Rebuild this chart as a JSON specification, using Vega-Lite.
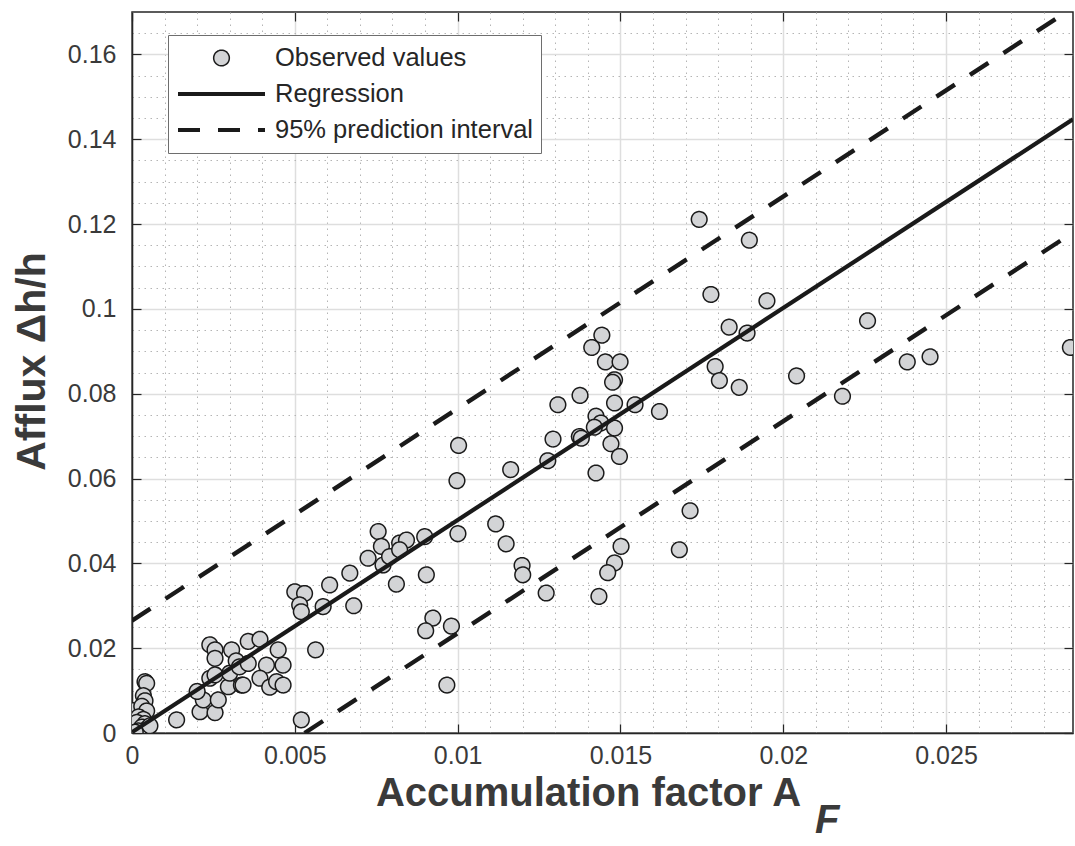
{
  "$schema": "https://vega.github.io/schema/vega-lite/v6.json",
  "width": 941,
  "height": 721,
  "autosize": "none",
  "padding": {"left": 132, "top": 12, "right": 2, "bottom": 113},
  "background": "white",
  "config": {
    "font": "Liberation Sans",
    "view": {"stroke": "#262626", "strokeWidth": 1.5},
    "legend": {
      "title": null, "orient": "none", "legendX": 36, "legendY": 23, "direction": "vertical",
      "fillColor": "white", "strokeColor": "#6e6e6e", "padding": 8,
      "clipHeight": 30, "rowPadding": 6, "labelOffset": 8,
      "labelFont": "Liberation Sans", "labelFontSize": 25.5, "labelColor": "#262626", "labelLimit": 400
    }
  },
  "title": {"text": "F", "orient": "bottom", "anchor": "start", "frame": "group", "font": "Liberation Sans", "fontSize": 40, "fontStyle": "italic", "fontWeight": "bold", "color": "#3a3a3a", "dx": 683, "offset": -12},
  "datasets": {
    "obs": [
      {"x": 0.00000, "y": 0.0053}, {"x": 0.00040, "y": 0.0121}, {"x": 0.00045, "y": 0.0117}, {"x": 0.00035, "y": 0.0088},
      {"x": 0.00040, "y": 0.0076}, {"x": 0.00030, "y": 0.0063}, {"x": 0.00045, "y": 0.0052}, {"x": 0.00020, "y": 0.0038},
      {"x": 0.00035, "y": 0.0032}, {"x": 0.00015, "y": 0.0025}, {"x": 0.00040, "y": 0.0022}, {"x": 0.00030, "y": 0.0014},
      {"x": 0.00045, "y": 0.0009}, {"x": 0.00020, "y": 0.0005}, {"x": 0.00055, "y": 0.0017}, {"x": 0.00010, "y": 0.0002},
      {"x": 0.00137, "y": 0.0031}, {"x": 0.00209, "y": 0.0050}, {"x": 0.00255, "y": 0.0048}, {"x": 0.00219, "y": 0.0078},
      {"x": 0.00265, "y": 0.0078}, {"x": 0.00200, "y": 0.0098}, {"x": 0.00239, "y": 0.0129}, {"x": 0.00255, "y": 0.0137},
      {"x": 0.00296, "y": 0.0109}, {"x": 0.00336, "y": 0.0113}, {"x": 0.00239, "y": 0.0208}, {"x": 0.00255, "y": 0.0196},
      {"x": 0.00255, "y": 0.0176}, {"x": 0.00306, "y": 0.0196}, {"x": 0.00320, "y": 0.0170}, {"x": 0.00300, "y": 0.0141},
      {"x": 0.00330, "y": 0.0156}, {"x": 0.00357, "y": 0.0216}, {"x": 0.00393, "y": 0.0221}, {"x": 0.00449, "y": 0.0196},
      {"x": 0.00357, "y": 0.0164}, {"x": 0.00413, "y": 0.0160}, {"x": 0.00464, "y": 0.0160}, {"x": 0.00393, "y": 0.0129},
      {"x": 0.00341, "y": 0.0113}, {"x": 0.00423, "y": 0.0108}, {"x": 0.00444, "y": 0.0121}, {"x": 0.00464, "y": 0.0113},
      {"x": 0.00500, "y": 0.0333}, {"x": 0.00530, "y": 0.0329}, {"x": 0.00515, "y": 0.0302}, {"x": 0.00520, "y": 0.0286},
      {"x": 0.00587, "y": 0.0298}, {"x": 0.00564, "y": 0.0196}, {"x": 0.00520, "y": 0.0031}, {"x": 0.00607, "y": 0.0349},
      {"x": 0.00669, "y": 0.0377}, {"x": 0.00681, "y": 0.0300}, {"x": 0.00725, "y": 0.0412}, {"x": 0.00756, "y": 0.0475},
      {"x": 0.00766, "y": 0.0440}, {"x": 0.00771, "y": 0.0396}, {"x": 0.00791, "y": 0.0416}, {"x": 0.00822, "y": 0.0448},
      {"x": 0.00843, "y": 0.0455}, {"x": 0.00822, "y": 0.0432}, {"x": 0.00812, "y": 0.0351}, {"x": 0.00899, "y": 0.0463},
      {"x": 0.00904, "y": 0.0373}, {"x": 0.00924, "y": 0.0271}, {"x": 0.00902, "y": 0.0241}, {"x": 0.00981, "y": 0.0252},
      {"x": 0.00967, "y": 0.0113}, {"x": 0.01003, "y": 0.0678}, {"x": 0.00998, "y": 0.0595}, {"x": 0.01001, "y": 0.0470},
      {"x": 0.01117, "y": 0.0493}, {"x": 0.01149, "y": 0.0446}, {"x": 0.01163, "y": 0.0621}, {"x": 0.01198, "y": 0.0395},
      {"x": 0.01200, "y": 0.0373}, {"x": 0.01272, "y": 0.0330}, {"x": 0.01277, "y": 0.0642}, {"x": 0.01293, "y": 0.0693},
      {"x": 0.01308, "y": 0.0774}, {"x": 0.01374, "y": 0.0699}, {"x": 0.01380, "y": 0.0695}, {"x": 0.01376, "y": 0.0796},
      {"x": 0.01412, "y": 0.0909}, {"x": 0.01443, "y": 0.0938}, {"x": 0.01454, "y": 0.0875}, {"x": 0.01499, "y": 0.0875},
      {"x": 0.01482, "y": 0.0833}, {"x": 0.01476, "y": 0.0827}, {"x": 0.01482, "y": 0.0778}, {"x": 0.01545, "y": 0.0774},
      {"x": 0.01620, "y": 0.0758}, {"x": 0.01425, "y": 0.0747}, {"x": 0.01440, "y": 0.0731}, {"x": 0.01420, "y": 0.0721},
      {"x": 0.01482, "y": 0.0719}, {"x": 0.01471, "y": 0.0682}, {"x": 0.01497, "y": 0.0652}, {"x": 0.01425, "y": 0.0613},
      {"x": 0.01502, "y": 0.0440}, {"x": 0.01482, "y": 0.0401}, {"x": 0.01461, "y": 0.0378}, {"x": 0.01434, "y": 0.0322},
      {"x": 0.01681, "y": 0.0432}, {"x": 0.01714, "y": 0.0524}, {"x": 0.01742, "y": 0.1211}, {"x": 0.01778, "y": 0.1034},
      {"x": 0.01834, "y": 0.0957}, {"x": 0.01791, "y": 0.0864}, {"x": 0.01804, "y": 0.0831}, {"x": 0.01865, "y": 0.0815},
      {"x": 0.01896, "y": 0.1162}, {"x": 0.01950, "y": 0.1019}, {"x": 0.01889, "y": 0.0943}, {"x": 0.02041, "y": 0.0842},
      {"x": 0.02182, "y": 0.0794}, {"x": 0.02259, "y": 0.0972}, {"x": 0.02381, "y": 0.0875}, {"x": 0.02451, "y": 0.0887},
      {"x": 0.02882, "y": 0.0909}
    ],
    "regression": [
      {"x": 0, "y": 0.0002}, {"x": 0.0289, "y": 0.1447}
    ],
    "interval": [
      {"bound": "upper", "x": 0, "y": 0.0265}, {"bound": "upper", "x": 0.0289, "y": 0.1710},
      {"bound": "lower", "x": 0.0053, "y": 0}, {"bound": "lower", "x": 0.0289, "y": 0.1180}
    ]
  },
  "layer": [
    {
      "data": {"name": "obs"},
      "mark": {"type": "point", "filled": true, "fill": "#d3d4d6", "stroke": "#1a1a1a", "opacity": 1, "clip": true},
      "encoding": {
        "x": {
          "field": "x", "type": "quantitative",
          "scale": {"domain": [0, 0.0289], "nice": false, "zero": false},
          "axis": {
            "orient": "bottom",
            "values": [0,0.001,0.002,0.003,0.004,0.005,0.006,0.007,0.008,0.009,0.01,0.011,0.012,0.013,0.014,0.015,0.016,0.017,0.018,0.019,0.02,0.021,0.022,0.023,0.024,0.025,0.026,0.027,0.028],
            "labelExpr": "abs(datum.value*200 - round(datum.value*200)) < 1e-6 ? format(datum.value, '~g') : ''",
            "labelOverlap": false, "labelFlush": false, "labelBound": false,
            "labelFont": "Liberation Sans", "labelFontSize": 25, "labelColor": "#3a3a3a", "labelPadding": 19,
            "tickSize": -9, "tickWidth": 1.2,
            "tickColor": {"condition": {"test": "abs(datum.value*200 - round(datum.value*200)) < 1e-6", "value": "#262626"}, "value": "transparent"},
            "grid": true,
            "gridColor": {"condition": {"test": "abs(datum.value*200 - round(datum.value*200)) < 1e-6", "value": "#dedede"}, "value": "#b5b5b5"},
            "gridDash": {"condition": {"test": "abs(datum.value*200 - round(datum.value*200)) < 1e-6", "value": []}, "value": [1.5, 4.5]},
            "gridWidth": {"condition": {"test": "abs(datum.value*200 - round(datum.value*200)) < 1e-6", "value": 1.5}, "value": 1},
            "domainColor": "#262626", "domainWidth": 1.5,
            "title": "Accumulation factor A",
            "titleFont": "Liberation Sans", "titleFontSize": 40, "titleFontWeight": "bold", "titleColor": "#3a3a3a",
            "titleBaseline": "alphabetic", "titleAlign": "center", "titleX": 456, "titleY": 72
          }
        },
        "y": {
          "field": "y", "type": "quantitative",
          "scale": {"domain": [0, 0.17], "nice": false, "zero": false},
          "axis": {
            "orient": "left",
            "values": [0,0.005,0.01,0.015,0.02,0.025,0.03,0.035,0.04,0.045,0.05,0.055,0.06,0.065,0.07,0.075,0.08,0.085,0.09,0.095,0.1,0.105,0.11,0.115,0.12,0.125,0.13,0.135,0.14,0.145,0.15,0.155,0.16,0.165],
            "labelExpr": "abs(datum.value*50 - round(datum.value*50)) < 1e-6 ? format(datum.value, '~g') : ''",
            "labelOverlap": false, "labelFlush": false, "labelBound": false,
            "labelFont": "Liberation Sans", "labelFontSize": 25, "labelColor": "#3a3a3a", "labelPadding": 25,
            "tickSize": -9, "tickWidth": 1.2,
            "tickColor": {"condition": {"test": "abs(datum.value*50 - round(datum.value*50)) < 1e-6", "value": "#262626"}, "value": "transparent"},
            "grid": true,
            "gridColor": {"condition": {"test": "abs(datum.value*50 - round(datum.value*50)) < 1e-6", "value": "#dedede"}, "value": "#b5b5b5"},
            "gridDash": {"condition": {"test": "abs(datum.value*50 - round(datum.value*50)) < 1e-6", "value": []}, "value": [1.5, 4.5]},
            "gridWidth": {"condition": {"test": "abs(datum.value*50 - round(datum.value*50)) < 1e-6", "value": 1.5}, "value": 1},
            "domainColor": "#262626", "domainWidth": 1.5,
            "title": "Afflux Δh/h",
            "titleFont": "Liberation Sans", "titleFontSize": 41, "titleFontWeight": "bold", "titleColor": "#3a3a3a",
            "titleBaseline": "alphabetic", "titleAlign": "center", "titleAngle": -90, "titleX": -88, "titleY": 349
          }
        },
        "shape": {
          "datum": "Observed values",
          "scale": {"domain": ["Observed values", "Regression", "95% prediction interval"], "range": ["circle", "stroke", "stroke"]}
        },
        "strokeDash": {
          "datum": "Observed values",
          "scale": {"domain": ["Observed values", "Regression", "95% prediction interval"], "range": [[1, 0], [1, 0], [22, 18]]}
        },
        "size": {
          "datum": "Observed values",
          "type": "nominal",
          "scale": {"type": "ordinal", "domain": ["Observed values", "Regression", "95% prediction interval"], "range": [245, 7569, 7569]}
        },
        "strokeWidth": {
          "datum": "Observed values",
          "type": "nominal",
          "scale": {"type": "ordinal", "domain": ["Observed values", "Regression", "95% prediction interval"], "range": [1.5, 4, 4]}
        }
      }
    },
    {
      "data": {"name": "regression"},
      "mark": {"type": "line", "stroke": "#1a1a1a", "strokeWidth": 4.2, "clip": true},
      "encoding": {
        "x": {"field": "x", "type": "quantitative", "axis": {"orient": "top", "values": [0,0.005,0.01,0.015,0.02,0.025], "labels": false, "grid": false, "domain": false, "ticks": true, "tickSize": -9, "tickWidth": 1.2, "tickColor": "#262626", "title": null}},
        "y": {"field": "y", "type": "quantitative", "axis": {"orient": "right", "values": [0,0.02,0.04,0.06,0.08,0.1,0.12,0.14,0.16], "labels": false, "grid": false, "domain": false, "ticks": true, "tickSize": -9, "tickWidth": 1.2, "tickColor": "#262626", "title": null}}
      }
    },
    {
      "data": {"name": "interval"},
      "mark": {"type": "line", "stroke": "#1a1a1a", "strokeWidth": 4.4, "strokeDash": [22, 18], "clip": true},
      "encoding": {
        "x": {"field": "x", "type": "quantitative", "axis": null},
        "y": {"field": "y", "type": "quantitative", "axis": null},
        "detail": {"field": "bound", "type": "nominal"}
      }
    }
  ],
  "resolve": {"axis": {"x": "independent", "y": "independent"}}
}
